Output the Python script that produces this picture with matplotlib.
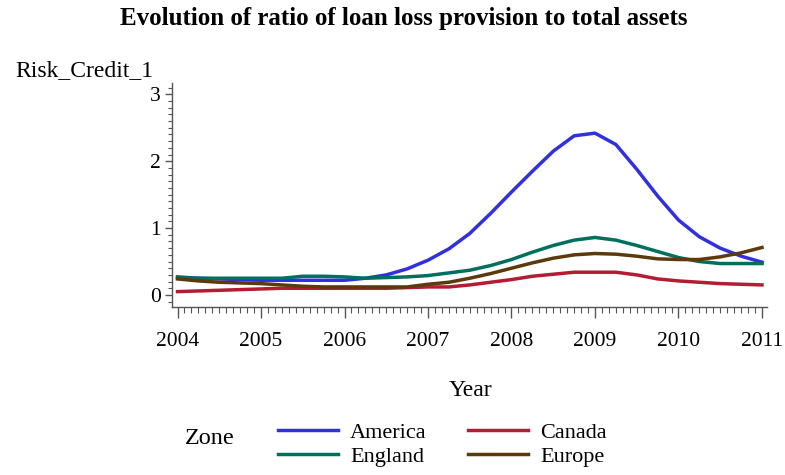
import matplotlib
matplotlib.use('Agg')
import matplotlib.pyplot as plt
from matplotlib.ticker import MultipleLocator

plt.rcParams['font.family'] = ['Liberation Serif', 'DejaVu Serif']

years = [2004.00, 2004.25, 2004.50, 2004.75, 2005.00, 2005.25, 2005.50, 2005.75,
         2006.00, 2006.25, 2006.50, 2006.75, 2007.00, 2007.25, 2007.50, 2007.75,
         2008.00, 2008.25, 2008.50, 2008.75, 2009.00, 2009.25, 2009.50, 2009.75,
         2010.00, 2010.25, 2010.50, 2010.75, 2011.00]

america = [0.27, 0.25, 0.24, 0.23, 0.22, 0.22, 0.22, 0.22,
           0.22, 0.25, 0.30, 0.39, 0.52, 0.69, 0.92, 1.22,
           1.54, 1.85, 2.15, 2.38, 2.42, 2.25, 1.88, 1.48,
           1.12, 0.87, 0.70, 0.58, 0.49]
england = [0.26, 0.25, 0.25, 0.25, 0.25, 0.25, 0.28, 0.28,
           0.27, 0.25, 0.26, 0.27, 0.29, 0.33, 0.37, 0.44,
           0.53, 0.64, 0.74, 0.82, 0.86, 0.82, 0.74, 0.65,
           0.56, 0.50, 0.47, 0.47, 0.47]
europe = [0.24, 0.21, 0.19, 0.18, 0.17, 0.15, 0.13, 0.12,
          0.12, 0.12, 0.12, 0.12, 0.16, 0.19, 0.25, 0.32,
          0.40, 0.48, 0.55, 0.60, 0.62, 0.61, 0.58, 0.54,
          0.53, 0.53, 0.57, 0.63, 0.71]
canada = [0.05, 0.06, 0.07, 0.08, 0.09, 0.10, 0.10, 0.10,
          0.10, 0.10, 0.10, 0.11, 0.12, 0.12, 0.15, 0.19,
          0.23, 0.28, 0.31, 0.34, 0.34, 0.34, 0.30, 0.24,
          0.21, 0.19, 0.17, 0.16, 0.15]

W, H = 785, 475
fig = plt.figure(figsize=(W / 100, H / 100), dpi=100)
ax = fig.add_axes([172 / W, 1 - 307 / H, 595 / W, 224 / H])

lw = 2.5
l_am, = ax.plot(years, america, color='#3030e0', lw=lw, label='America')
l_ca, = ax.plot(years, canada, color='#b41c34', lw=lw, label='Canada')
l_en, = ax.plot(years, england, color='#00705e', lw=lw, label='England')
l_eu, = ax.plot(years, europe, color='#5c3a0c', lw=lw, label='Europe')

ax.set_xlim(2003.934, 2011.06)
ax.set_ylim(-0.18, 3.17)
for s in ['top', 'right']:
    ax.spines[s].set_visible(False)
for s in ['left', 'bottom']:
    ax.spines[s].set_color('#555555')
    ax.spines[s].set_linewidth(1.0)

ax.xaxis.set_major_locator(MultipleLocator(1))
ax.xaxis.set_minor_locator(MultipleLocator(1 / 12))
ax.yaxis.set_major_locator(MultipleLocator(1))
ax.yaxis.set_minor_locator(MultipleLocator(0.1))
ax.xaxis.set_major_formatter(plt.FuncFormatter(lambda v, p: '%d' % round(v)))
ax.tick_params(axis='x', which='major', length=8, width=1, color='#555555', labelsize=15.5, pad=10)
ax.tick_params(axis='x', which='minor', length=4.5, width=0.8, color='#555555')
ax.tick_params(axis='y', which='major', length=5, width=1, color='#555555', labelsize=15.5, pad=3)
ax.tick_params(axis='y', which='minor', length=3, width=0.8, color='#555555')

fig.text(404 / W, 1 - 18 / H, 'Evolution of ratio of loan loss provision to total assets',
         ha='center', va='center', fontsize=18, fontweight='bold')
fig.text(15 / W, 1 - 71 / H, 'Risk_Credit_1', ha='left', va='center', fontsize=17)
fig.text(470 / W, 1 - 390 / H, 'Year', ha='center', va='center', fontsize=17)
fig.text(185 / W, 1 - 439 / H, 'Zone', ha='left', va='center', fontsize=17.5)

fig.legend(handles=[l_am, l_en, l_ca, l_eu], ncol=2, frameon=False,
           loc='upper left', bbox_to_anchor=(278 / W, 1 - 422 / H),
           borderaxespad=0, borderpad=0, fontsize=16,
           handlelength=2.7, handletextpad=0.55, columnspacing=1.85,
           labelspacing=0.17)

fig.savefig('out.png', dpi=100)
